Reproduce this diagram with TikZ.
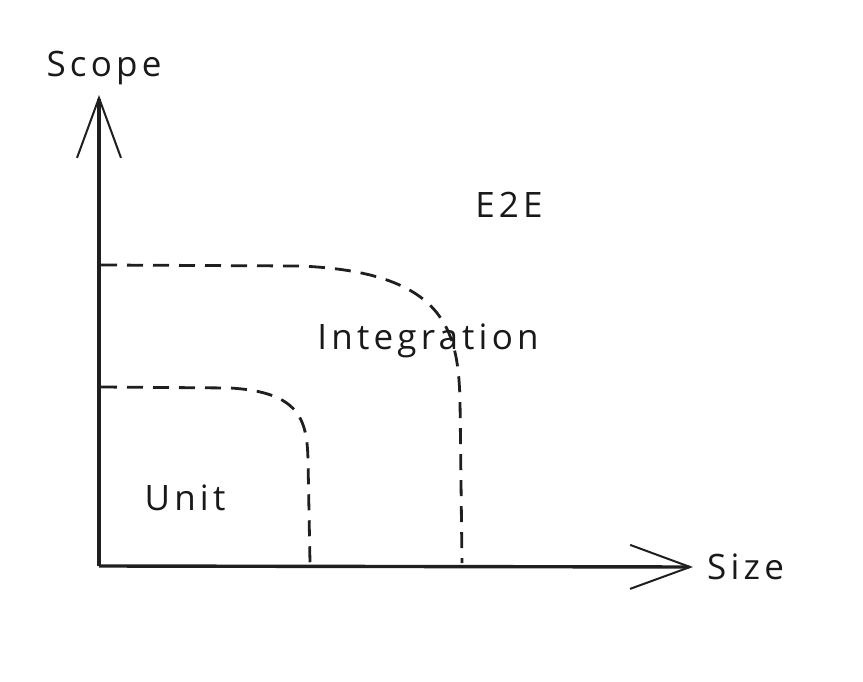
\documentclass[tikz,border=0pt]{standalone}
\usepackage{fontspec}
\setmainfont{Open Sans}[LetterSpace=12]
\usetikzlibrary{arrows.meta,positioning}

\begin{document}
\begin{tikzpicture}[
    x=1pt,y=-1pt,
    >={Straight Barb[length=60pt,width=44pt,line width=2pt]},
    axis/.style={->,line width=3.4pt,black!88},
    zone/.style={line width=2.8pt,black!88,dash pattern=on 16pt off 10pt},
    lbl/.style={font=\fontsize{35}{38}\selectfont,text=black!90,inner sep=0pt}
  ]
  \useasboundingbox (0,0) rectangle (863,682);
  % axes
  \coordinate (o) at (99,566);
  \coordinate (ytop) at (99,95);
  \coordinate (xend) at (693,567);
  \draw[axis] (o) -- (ytop);
  \draw[axis] (o) -- (xend);
  \node[lbl] (scope) at (104,68) {Scope};
  \node[lbl,right=14pt of xend] (size) {Size};
  % regions
  \coordinate (u1) at (101,387);
  \coordinate (u2) at (310,563);
  \coordinate (i1) at (101,265);
  \coordinate (i2) at (462,563);
  \draw[zone] (i1) -- (300,266) .. controls (445,272) and (458,330) .. (460,400) -- (i2);
  \draw[zone] (u1) -- (230,388) .. controls (300,392) and (307,420) .. (308,460) -- (u2);
  \node[lbl] (unit) at (185,498) {Unit};
  \node[lbl] (integ) at (428,341) {Integration};
  \node[lbl] (e2e) at (509,205) {E2E};
\end{tikzpicture}
\end{document}
